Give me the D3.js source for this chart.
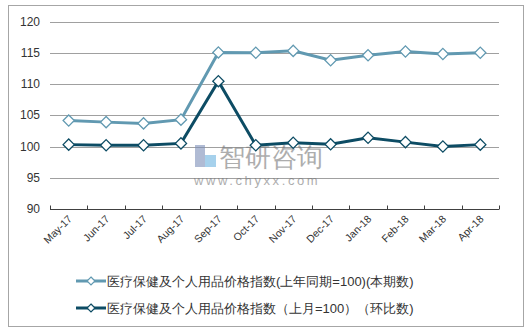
<!DOCTYPE html>
<html>
<head>
<meta charset="utf-8">
<script src="https://cdn.jsdelivr.net/npm/d3@7"></script>
<style>
  body { margin: 0; background: #fff; }
  text { font-family: "Liberation Sans", Arial, sans-serif; fill: #333; }
</style>
</head>
<body>
<div id="chart"></div>
<script>
// data
let months = ["May-17", "Jun-17", "Jul-17", "Aug-17", "Sep-17", "Oct-17",
              "Nov-17", "Dec-17", "Jan-18", "Feb-18", "Mar-18", "Apr-18"];
let yoyValues = [104.15, 103.9, 103.7, 104.3, 115.05, 115.0, 115.3, 113.8, 114.6, 115.2, 114.8, 115.0];
let momValues = [100.3, 100.2, 100.2, 100.5, 110.45, 100.2, 100.6, 100.35, 101.4, 100.7, 100.0, 100.3];
let seriesNames = ["医疗保健及个人用品价格指数(上年同期=100)(本期数)",
                   "医疗保健及个人用品价格指数（上月=100）（环比数)"];
let yTicks = [90, 95, 100, 105, 110, 115, 120];

let W = 532, H = 334;
let svg = d3.select("#chart").append("svg")
    .attr("width", W)
    .attr("height", H);

// outer frame
svg.append("rect")
    .attr("x", 8.5).attr("y", 5.5)
    .attr("width", 515).attr("height", 321)
    .attr("fill", "none")
    .attr("stroke", "#a6a6a6")
    .attr("stroke-width", 1);

let x = d3.scaleBand().domain(months).range([50, 499]);
let y = d3.scaleLinear().domain([90, 120]).range([209, 21.5]);

// gridlines
svg.append("g").selectAll("line")
    .data(yTicks.filter(d => d > 90))
    .enter().append("line")
        .attr("x1", 50).attr("x2", 499)
        .attr("y1", d => Math.round(y(d)) + 0.5)
        .attr("y2", d => Math.round(y(d)) + 0.5)
        .attr("stroke", "#a0a0a0")
        .attr("stroke-width", 1);

// y labels
svg.append("g").selectAll("text")
    .data(yTicks)
    .enter().append("text")
        .attr("x", 40)
        .attr("y", d => y(d))
        .attr("dy", "0.35em")
        .attr("text-anchor", "end")
        .attr("font-size", 12)
        .text(d => d);

// x axis
let xAxis = svg.append("g")
    .attr("transform", "translate(0," + (Math.round(y(90)) + 0.5) + ")");
xAxis.append("line")
    .attr("x1", 50).attr("x2", 499)
    .attr("stroke", "#404040");
let tickPos = months.map(m => x(m)).concat([x.range()[1]]);
xAxis.selectAll(".tk").data(tickPos).enter().append("line")
    .attr("class", "tk")
    .attr("x1", d => Math.round(d) + 0.5).attr("x2", d => Math.round(d) + 0.5)
    .attr("y1", -4).attr("y2", 0)
    .attr("stroke", "#404040");
xAxis.selectAll(".lb").data(months).enter().append("text")
    .attr("class", "lb")
    .attr("font-size", 10.5)
    .attr("text-anchor", "end")
    .attr("transform", d => "translate(" + (x(d) + x.bandwidth() / 2 + 4) + ",10) rotate(-45)")
    .text(d => d);

// watermark
let wm = svg.append("g").attr("opacity", 0.6);
wm.append("rect").attr("x", 195).attr("y", 145).attr("width", 10).attr("height", 22).attr("fill", "#7d8fb8");
wm.append("rect").attr("x", 205).attr("y", 155).attr("width", 11).attr("height", 12).attr("fill", "#6cb4e0");
wm.append("text").attr("x", 219).attr("y", 166).attr("font-size", 26)
    .attr("font-family", "Noto Sans CJK SC").style("fill", "#777").text("智研咨询");
wm.append("text").attr("x", 194).attr("y", 185).attr("font-size", 13)
    .attr("letter-spacing", 2.6).style("fill", "#777").text("www.chyxx.com");

let colors = ["#6199b1", "#0d4c64"];
let allSeries = [yoyValues, momValues];

let line = d3.line()
    .x((d, i) => x(months[i]) + x.bandwidth() / 2)
    .y(d => y(d));

let diamond = d3.symbol().type(d3.symbolDiamond2).size(80);

allSeries.forEach((vals, k) => {
    svg.append("path")
        .datum(vals)
        .attr("d", line)
        .attr("fill", "none")
        .attr("stroke", colors[k])
        .attr("stroke-width", 3);
    svg.append("g").selectAll("path")
        .data(vals)
        .enter().append("path")
            .attr("d", diamond)
            .attr("transform", (d, i) => "translate(" + (x(months[i]) + x.bandwidth() / 2) + "," + y(d) + ")")
            .attr("fill", "#fff")
            .attr("stroke", colors[k])
            .attr("stroke-width", 1.3);
});

// legend
let legend = svg.append("g");
seriesNames.forEach((name, k) => {
    let ly = 281 + k * 27;
    legend.append("line")
        .attr("x1", 76).attr("x2", 106)
        .attr("y1", ly).attr("y2", ly)
        .attr("stroke", colors[k]).attr("stroke-width", 3);
    legend.append("path")
        .attr("d", d3.symbol().type(d3.symbolDiamond2).size(40))
        .attr("transform", "translate(91," + ly + ")")
        .attr("fill", "#fff")
        .attr("stroke", colors[k])
        .attr("stroke-width", 1.2);
    legend.append("text")
        .attr("x", 107).attr("y", ly)
        .attr("dy", "0.36em")
        .attr("font-size", 13)
        .attr("font-family", "Noto Sans CJK SC")
        .text(name);
});
</script>
</body>
</html>
